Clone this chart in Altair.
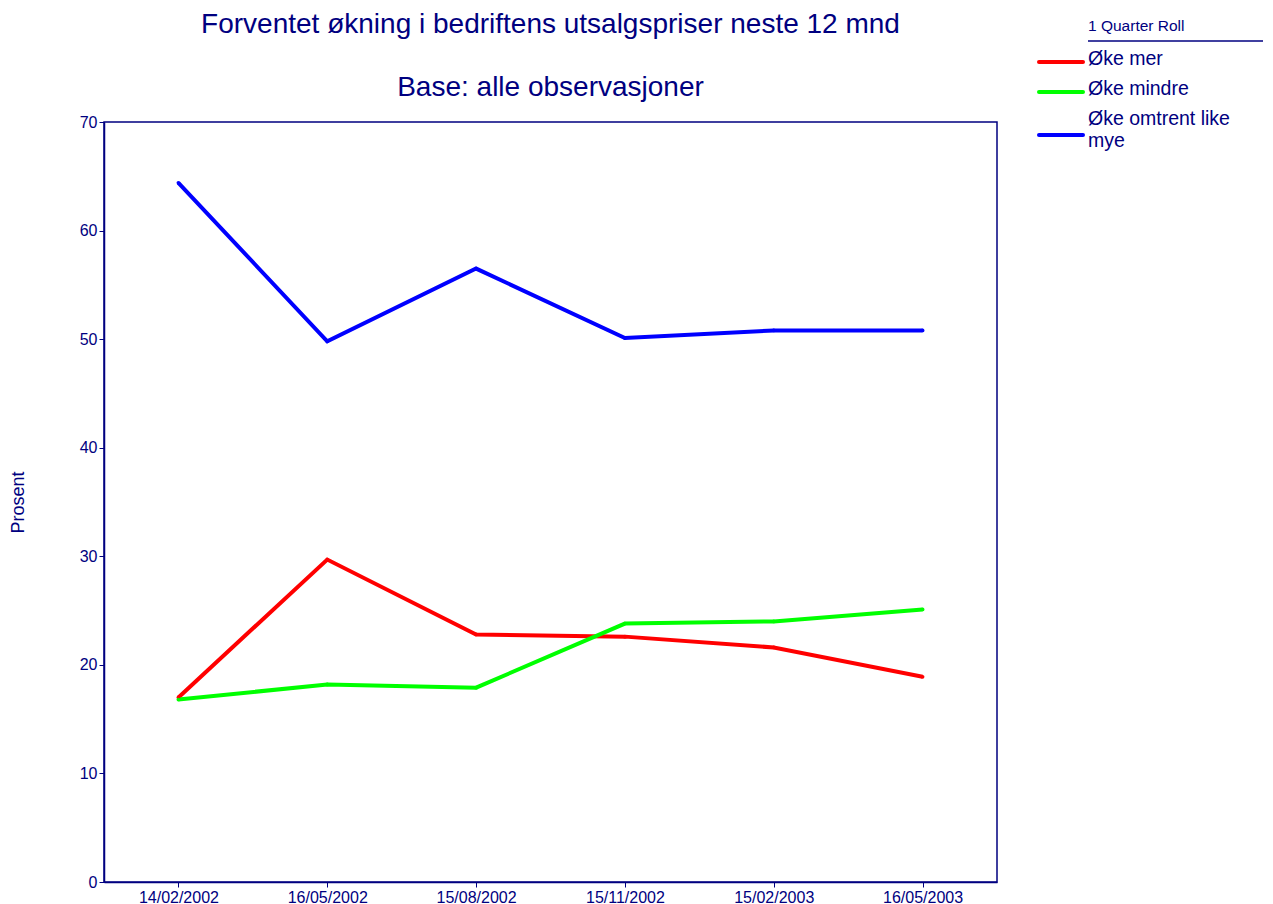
import altair as alt
import pandas as pd

dates = ["14/02/2002", "16/05/2002", "15/08/2002", "15/11/2002", "15/02/2003", "16/05/2003"]
series_names = ["Øke mer", "Øke mindre", "Øke omtrent like mye"]
oke_mer = [17.0, 29.7, 22.8, 22.6, 21.6, 18.9]
oke_mindre = [16.8, 18.2, 17.9, 23.8, 24.0, 25.1]
oke_like = [64.4, 49.8, 56.5, 50.1, 50.8, 50.8]
colors = ["#FF0000", "#00FF00", "#0000FF"]
title_lines = ["Forventet økning i bedriftens utsalgspriser neste 12 mnd", "Base: alle observasjoner"]
legend_title_text = "1 Quarter Roll"
legend_label_lines = [["Øke mer"], ["Øke mindre"], ["Øke omtrent like", "mye"]]

rows = []
for name, vals in zip(series_names, [oke_mer, oke_mindre, oke_like]):
    for d, v in zip(dates, vals):
        rows.append({"Dato": d, "Serie": name, "Prosent": v})
df = pd.DataFrame(rows)

NAVY = "#000080"
FONT = "Liberation Sans"
one = pd.DataFrame({"k": [0]})

TOP = 114  # plot top offset inside svg (page y = TOP + 8)

lines = alt.Chart(df).mark_line(
    strokeWidth=4,
    point=alt.OverlayMarkDef(filled=True, size=14),
).encode(
    x=alt.X("Dato:O", sort=dates, title=None,
            scale=alt.Scale(type="point", padding=0.5),
            axis=alt.Axis(labelAngle=0)),
    y=alt.Y("Prosent:Q", title="Prosent",
            scale=alt.Scale(domain=[0, 70], nice=False),
            axis=alt.Axis(values=[0, 10, 20, 30, 40, 50, 60, 70], titlePadding=52)),
    color=alt.Color("Serie:N", sort=series_names,
                    scale=alt.Scale(domain=series_names, range=colors),
                    legend=None),
)

layers = [lines]

# page-y helper: relative to plot top
def py(page_y):
    return page_y - (TOP + 8)

for txt, yy in zip(title_lines, [33, 96]):
    layers.append(alt.Chart(one).mark_text(
        align="center", baseline="alphabetic", fontSize=28, color=NAVY, font=FONT, text=txt
    ).encode(x=alt.value(446.5), y=alt.value(py(yy))))

layers.append(alt.Chart(one).mark_text(
    align="left", baseline="alphabetic", fontSize=15.5, color=NAVY, font=FONT, text=legend_title_text
).encode(x=alt.value(984), y=alt.value(py(31))))
layers.append(alt.Chart(one).mark_rule(color=NAVY, strokeWidth=1.5).encode(
    x=alt.value(984), x2=alt.value(1175), y=alt.value(py(41))))

sym_y = [62, 92, 135]
lab_y = [[65], [95], [125, 147]]
for col, sy, labs, ly in zip(colors, sym_y, legend_label_lines, lab_y):
    layers.append(alt.Chart(one).mark_rule(color=col, strokeWidth=4, strokeCap="round").encode(
        x=alt.value(935), x2=alt.value(979), y=alt.value(py(sy))))
    for t, yy in zip(labs, ly):
        layers.append(alt.Chart(one).mark_text(
            align="left", baseline="alphabetic", fontSize=19.5, color=NAVY, font=FONT, text=t
        ).encode(x=alt.value(984), y=alt.value(py(yy))))

chart = alt.layer(*layers).properties(
    width=893,
    height=760,
    autosize=alt.AutoSizeParams(type="none"),
    padding={"left": 96, "top": TOP, "right": 266, "bottom": 22},
).configure_view(
    stroke=NAVY, strokeWidth=1.5
).configure_axis(
    domainColor=NAVY, domainWidth=1.5, tickColor=NAVY, tickSize=5,
    labelColor=NAVY, labelFont=FONT, labelFontSize=16,
    titleColor=NAVY, titleFont=FONT, titleFontSize=18, titleFontWeight="normal",
    grid=False, labelPadding=2,
)

chart.save("out.html", embed_options={"renderer": "svg", "actions": False})
